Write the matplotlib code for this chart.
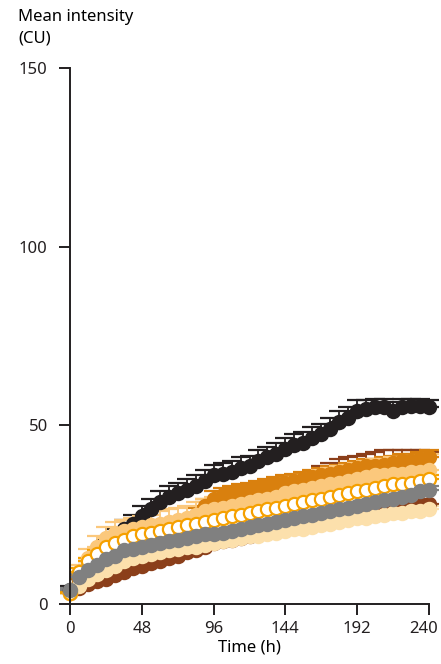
"""
plot.py - mean intensity over time, seven groups with upward error bars.
"""

import numpy as np
import matplotlib
matplotlib.use("Agg")
import matplotlib.pyplot as plt
from matplotlib.transforms import ScaledTranslation


# ---------------------------------------------------------------------------
# Data (one point every 6 h)
# ---------------------------------------------------------------------------
time_h = list(range(0, 241, 6))

black = [4, 7, 10, 12.5, 15.5, 18.5, 21, 22.5, 24.5, 26.5, 28.5, 30, 31, 32,
         33, 34.5, 36, 36.5, 37, 38, 38.5, 40, 41, 42, 43.5, 44.5, 45, 46.5,
         47.5, 49, 51, 52, 54, 54.5, 55, 55, 54, 55, 55.5, 55.5, 55]
black_err = [1, 1.5, 2, 2, 2.5, 2.5, 2.5, 2.5, 3, 3, 3, 3, 3, 3, 3, 3, 3, 3,
             3, 3, 3, 3, 3, 3, 3, 3, 3, 3, 3, 3, 3, 3, 3, 2.5, 2.5, 2.5, 2.5,
             2.5, 2, 2, 2]

brown = [3, 4.5, 5.5, 6.5, 7, 8, 9, 10, 10.5, 11.5, 12, 13, 13.5, 14.5, 15, 16,
         17, 17.5, 18, 18.5, 19, 19.5, 20, 20.5, 21, 21.5, 22, 23, 23.5, 24,
         24.5, 25, 25.5, 26, 26.5, 27, 27, 27.5, 28, 28, 28]
brown_err = [1, 1.5, 2, 2, 2.5, 3, 3, 3.5, 4, 4.5, 5, 5.5, 6, 6.5, 7, 7.5,
             8, 8.5, 9, 9.5, 9.5, 9.5, 9.5, 9.5, 9, 9, 13, 14, 15, 15.5,
             16, 16, 16, 16, 16, 16, 16, 15.5, 15, 15, 14.5]

dark_orange = [3, 7, 10, 12, 14, 15.5, 16.5, 17.5, 18, 18.5, 19, 19.5, 20.5,
               21.5, 25, 27.5, 29.5, 30.5, 31, 31.5, 32, 32.5, 33, 33.5, 34,
               34.5, 35, 35.5, 36, 36.5, 37, 37.5, 38, 38.5, 38.5, 39, 39.5,
               40, 40, 40.5, 41]
dark_orange_err = [0.5, 1, 1, 1.5, 1.5, 1.5, 1.5, 2, 2, 2, 2, 2, 2, 2, 2, 2, 2,
                   2, 2, 2, 2, 2, 2, 2, 2, 2, 2, 2, 2, 2, 2, 2, 2, 2, 2, 2, 2,
                   2, 2, 2, 2]

light_orange = [3, 9, 13, 16, 18.5, 20, 20.5, 21, 21.5, 22, 22.5, 23, 23.5, 24,
                25, 26, 26.5, 27, 27.5, 28, 28.5, 29, 29.5, 30, 31, 31.5, 32,
                32.5, 33, 33.5, 34, 34.5, 35, 35.5, 36, 36, 36.5, 36.5, 37, 37,
                37.5]
light_orange_err = [1, 2, 2.5, 3, 3, 3, 3, 3, 3, 3, 3.5, 3.5, 3.5, 3.5, 3.5,
                    3.5, 3.5, 3.5, 4, 4, 4, 4, 4, 4, 4, 4, 4, 4, 4.5, 4.5, 4.5,
                    4.5, 4.5, 4.5, 4.5, 4.5, 4.5, 4.5, 4.5, 4.5, 4.5]

beige = [3, 5, 7, 8.5, 9.5, 10.5, 12, 13, 13.5, 14, 14.5, 15, 15.5, 16, 16,
         16.5, 17, 17.5, 18, 18.5, 19, 19, 19.5, 20, 20.5, 21, 21, 21.5, 22,
         22.5, 23, 23.5, 24, 24, 24.5, 25, 25.5, 25.5, 26, 26, 26.5]
beige_err = [0.5, 1, 1, 1, 1, 1, 1, 1, 1, 1, 1, 1, 1, 1, 1, 1, 1, 1, 1, 1, 1,
             1, 1, 1, 1, 1, 1, 1, 1, 1, 1, 1, 1, 1, 1, 1, 1, 1, 1, 1, 1]

open_orange = [3, 9, 12, 14, 16, 17, 18, 19, 19.5, 20, 20.5, 21, 21.5, 22,
               22.5, 23, 23.5, 24, 24.5, 25, 25.5, 26, 26.5, 27, 27.5, 28,
               28.5, 29, 29.5, 30, 30.5, 31, 31.5, 32, 32.5, 33, 33.5, 33.5,
               34, 34.5, 35]
open_orange_err = [0.5, 1, 1, 1, 1, 1, 1, 1, 1, 1, 1, 1, 1, 1, 1, 1, 1, 1, 1,
                   1, 1, 1, 1, 1, 1, 1, 1, 1, 1, 1, 1, 1, 1, 1, 1, 1, 1, 1, 1,
                   1, 1]

gray = [4, 7.5, 9.5, 11, 12.5, 13.5, 15, 15.5, 16, 16.5, 17, 17.5, 18, 18.5,
        19, 19.5, 19.5, 20, 20.5, 21, 21.5, 22, 22.5, 23, 23.5, 24, 24.5, 25,
        25.5, 26, 26.5, 27, 27.5, 28, 28.5, 29, 29.5, 30, 30.5, 31.5, 32]
gray_err = [0.5, 1, 1, 1, 1, 1, 1, 1, 1, 1, 1, 1, 1, 1, 1, 1, 1, 1, 1, 1, 1,
            1, 1, 1, 1, 1, 1, 1, 1, 1, 1, 1, 1, 1, 1, 1, 1, 1, 1, 1, 1]

y_ticks = [0, 50, 100, 150]
x_ticks = [0, 48, 96, 144, 192, 240]

# drawing order: bottom first
series = [
    (black, black_err, "#231F20", "#231F20"),
    (brown, brown_err, "#8B3F1A", "#8B3F1A"),
    (dark_orange, dark_orange_err, "#D9800E", "#D9800E"),
    (light_orange, light_orange_err, "#FBC87C", "#FBC87C"),
    (beige, beige_err, "#FCE0AC", "#FCE0AC"),
    (open_orange, open_orange_err, "#F5A000", "white"),
    (gray, gray_err, "#808080", "#808080"),
]

plt.rcParams["font.family"] = ["Noto Sans", "DejaVu Sans"]

fig = plt.figure(figsize=(4.41, 6.64), dpi=100)
ax = fig.add_axes([70 / 441, 60 / 664, 359 / 441, 536 / 664])

for values, err, edge, face in series:
    lower = np.zeros(len(err))
    ax.errorbar(time_h, values, yerr=[lower, err], fmt="o", ms=9.5,
                mfc=face, mec=edge, mew=1.6, ecolor=edge, elinewidth=1.3,
                capsize=7, capthick=1.3, clip_on=False)

ax.set_xlim(0, 240)
ax.set_ylim(0, 150)
ax.set_xticks(x_ticks)
ax.set_yticks(y_ticks)
ax.tick_params(direction="out", length=8, width=1.4, labelsize=12,
               colors="#231F20")
ax.tick_params(axis="y", pad=8)
ax.tick_params(axis="x", pad=4)

# nudge the last x label left so it stays inside the figure
last = ax.get_xticklabels()[-1]
last.set_transform(last.get_transform()
                   + ScaledTranslation(-5 / 100, 0, fig.dpi_scale_trans))

for side in ("top", "right"):
    ax.spines[side].set_visible(False)
for side in ("left", "bottom"):
    ax.spines[side].set_linewidth(1.4)
    ax.spines[side].set_color("#231F20")

ax.set_xlabel("Time (h)", fontsize=12, labelpad=2)
fig.text(18 / 441, 1 - 9 / 664, "Mean intensity\n(CU)", ha="left", va="top",
         fontsize=12, linespacing=1.45)

fig.savefig("out.png", dpi=100)
